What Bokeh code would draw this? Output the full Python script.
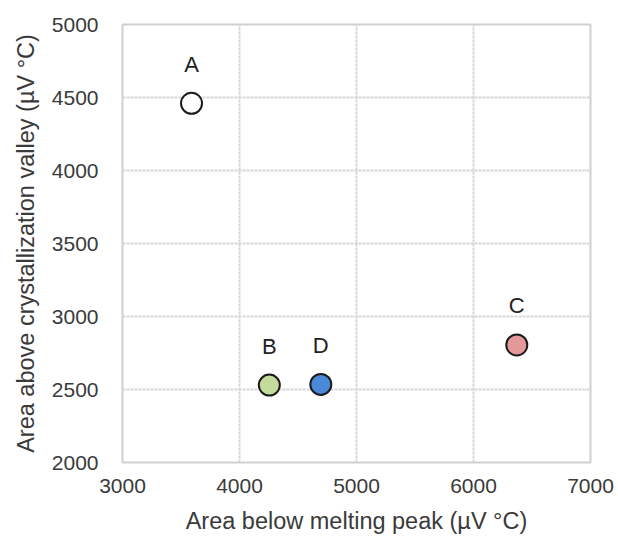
from bokeh.plotting import figure
from bokeh.models import ColumnDataSource, FixedTicker, Range1d
from bokeh.core.properties import value
from bokeh.embed import file_html
from bokeh.resources import INLINE

labels = ["A", "B", "C", "D"]
melt_area = [3590, 4255, 6370, 4695]
cryst_area = [4460, 2530, 2805, 2535]
colors = ["#ffffff", "#c4dc9b", "#e3999a", "#4a88d8"]
x_ticks = [3000, 4000, 5000, 6000, 7000]
y_ticks = [2000, 2500, 3000, 3500, 4000, 4500, 5000]

src = ColumnDataSource(dict(x=melt_area, y=cryst_area, c=colors, t=labels))

p = figure(width=618, height=540, output_backend="svg", toolbar_location=None,
           x_range=Range1d(3000, 7000), y_range=Range1d(2000, 5000),
           min_border_left=122, min_border_right=28, min_border_top=24, min_border_bottom=78)
p.background_fill_color = "white"
p.border_fill_color = "white"
p.outline_line_color = "#d0d0d0"
p.outline_line_width = 2

for ax in (p.xaxis, p.yaxis):
    ax.axis_line_color = None
    ax.major_tick_line_color = None
    ax.minor_tick_line_color = None
    ax.major_label_text_font = "Liberation Sans"
    ax.major_label_text_font_size = "21px"
    ax.major_label_text_color = "#3a3a3a"
    ax.axis_label_text_font = "Liberation Sans"
    ax.axis_label_text_font_size = "23.5px"
    ax.axis_label_text_font_style = "normal"
    ax.axis_label_text_color = "#3a3a3a"

p.xaxis.ticker = FixedTicker(ticks=x_ticks)
p.yaxis.ticker = FixedTicker(ticks=y_ticks)
p.xaxis.axis_label = "Area below melting peak (µV °C)"
p.yaxis.axis_label = "Area above crystallization valley (µV °C)"
p.xaxis.major_label_standoff = 10
p.yaxis.major_label_standoff = 18
p.xaxis.axis_label_standoff = 12
p.yaxis.axis_label_standoff = 10

for g in (p.xgrid, p.ygrid):
    g.grid_line_color = "#d6d6d6"
    g.grid_line_width = 2
    g.grid_line_dash = "3 1"

p.scatter("x", "y", source=src, size=21, fill_color="c", line_color="#1a1a1a", line_width=2)
p.text("x", "y", text="t", source=src, y_offset=-39, text_align="center",
       text_baseline="middle", text_font=value("Liberation Sans"),
       text_font_size="22px", text_color="#222222")

open("out.html", "w").write(file_html(p, INLINE))
